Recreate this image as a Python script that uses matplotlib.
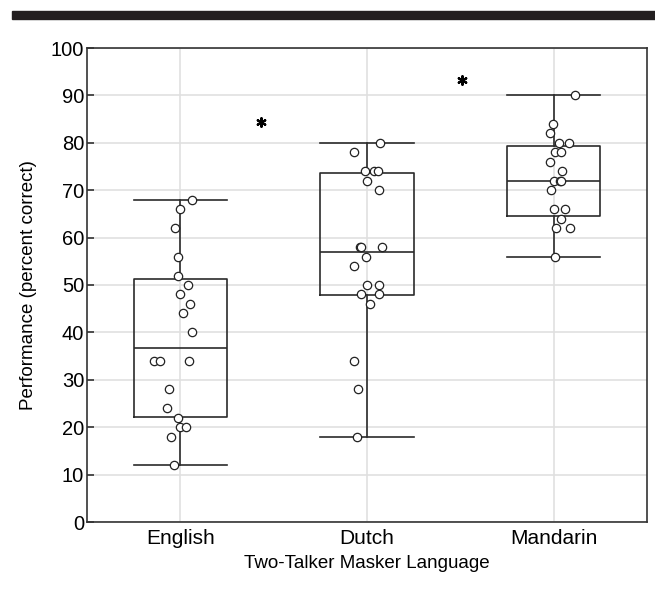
import matplotlib
matplotlib.use("Agg")
import matplotlib.pyplot as plt
from matplotlib.patches import Rectangle

plt.rcParams["font.family"] = ["Liberation Sans", "DejaVu Sans"]

categories = ["English", "Dutch", "Mandarin"]

# individual listener scores (percent correct) and horizontal jitter
english_vals = [68, 66, 62, 56, 52, 50, 48, 46, 44, 40, 34, 34, 34, 28, 24, 22, 20, 20, 18, 12]
english_jit = [0.06, 0.0, -0.03, -0.01, -0.01, 0.04, 0.0, 0.05, 0.015, 0.065,
               -0.14, -0.11, 0.045, -0.06, -0.07, -0.01, 0.0, 0.03, -0.05, -0.035]
dutch_vals = [80, 78, 74, 74, 74, 72, 70, 58, 58, 58, 56, 54, 50, 50, 48, 48, 46, 34, 28, 18]
dutch_jit = [0.07, -0.07, -0.01, 0.035, 0.06, 0.0, 0.065, -0.035, -0.03, 0.08,
             -0.007, -0.07, 0.0, 0.065, -0.03, 0.065, 0.018, -0.07, -0.05, -0.052]
mandarin_vals = [90, 84, 82, 80, 80, 78, 78, 76, 74, 72, 72, 72, 70, 66, 66, 64, 62, 62, 56]
mandarin_jit = [0.115, -0.005, -0.02, 0.027, 0.082, 0.005, 0.037, -0.02, 0.047,
                0.004, 0.034, 0.041, -0.016, 0.0, 0.063, 0.04, 0.01, 0.09, 0.005]

# box statistics as drawn in the figure
q1 = [22.2, 47.9, 64.5]
med = [36.8, 56.9, 72.0]
q3 = [51.3, 73.7, 79.4]
whis_lo = [12, 18, 56]
whis_hi = [68, 80, 90]

# significance markers
star_x = [0.43, 1.51]
star_y = [84.4, 93.3]

fig = plt.figure(figsize=(6.55, 5.99), dpi=100)
fig.patches.append(Rectangle((12 / 655, 1 - 19 / 599), 1, 8 / 599,
                             transform=fig.transFigure, color="#231f20", zorder=5))
ax = fig.add_axes([87 / 655, 77 / 599, (647 - 87) / 655, (522 - 48) / 599])

stats = [
    {"q1": q1[i], "med": med[i], "q3": q3[i], "whislo": whis_lo[i], "whishi": whis_hi[i], "fliers": []}
    for i in range(3)
]
line_kw = dict(color="#2b2b2b", linewidth=1.2)
ax.bxp(stats, positions=[0, 1, 2], widths=0.5, showfliers=False,
       boxprops=line_kw, medianprops=line_kw, whiskerprops=line_kw,
       capprops=line_kw, capwidths=0.5, manage_ticks=False, zorder=3)

for i, (vals, jit) in enumerate([(english_vals, english_jit),
                                  (dutch_vals, dutch_jit),
                                  (mandarin_vals, mandarin_jit)]):
    ax.scatter([i + j for j in jit], vals, s=36, facecolors="white",
               edgecolors="#222222", linewidths=0.9, zorder=4)

ax.scatter(star_x, star_y, marker=(6, 2, 0), s=38, color="black", linewidths=1.6, zorder=4)

ax.set_xlim(-0.5, 2.5)
ax.set_ylim(0, 100)
ax.set_yticks(range(0, 101, 10))
ax.set_xticks([0, 1, 2])
ax.set_xticklabels(categories)
ax.tick_params(axis="y", direction="in", length=5, width=1.2, color="#333333",
               labelsize=14.5, pad=2)
ax.tick_params(axis="x", length=0, labelsize=15, pad=5)
ax.grid(True, color="#e0e0e0", linewidth=1.2, zorder=0)
ax.set_axisbelow(True)
for sp in ax.spines.values():
    sp.set_color("#333333")
    sp.set_linewidth(1.2)

ax.set_xlabel("Two-Talker Masker Language", fontsize=13.5, labelpad=5)
ax.set_ylabel("Performance (percent correct)", fontsize=13.5, labelpad=10)

fig.savefig("out.png", dpi=100)
